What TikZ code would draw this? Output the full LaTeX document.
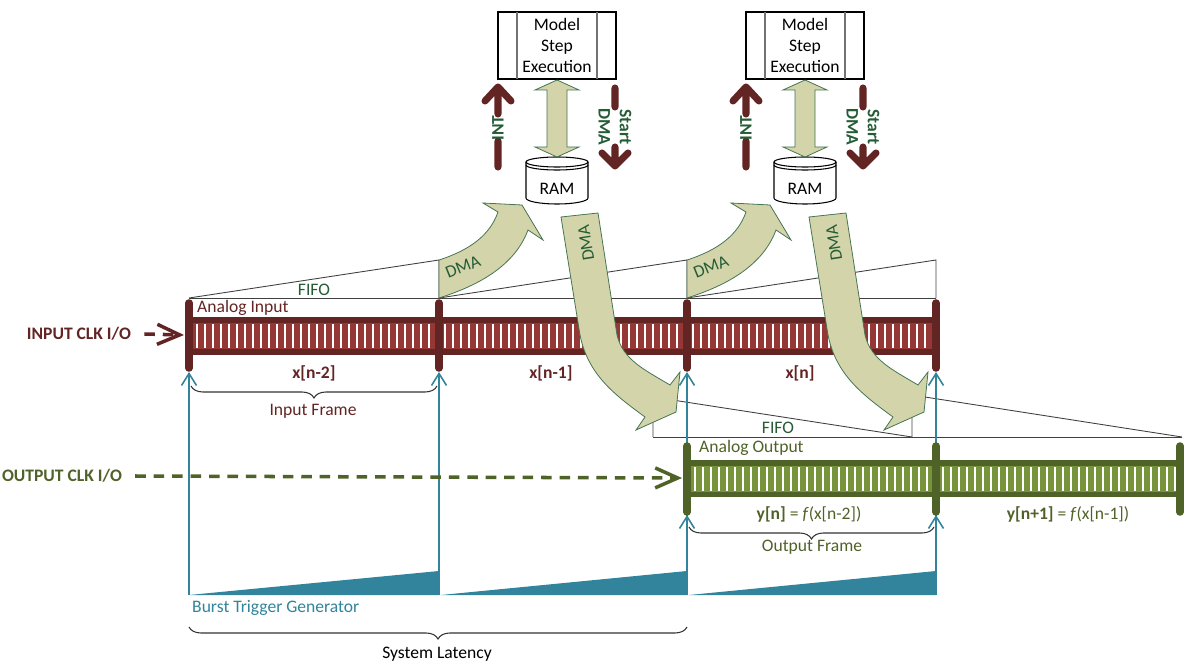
\documentclass[tikz,border=0pt]{standalone}
\usepackage{fontspec}
\setmainfont{Carlito}
\usetikzlibrary{arrows.meta,decorations.pathreplacing}
\definecolor{inred}{HTML}{632523}
\definecolor{inredl}{HTML}{953735}
\definecolor{outgrn}{HTML}{4F6228}
\definecolor{outgrnl}{HTML}{77933C}
\definecolor{trig}{HTML}{31849B}
\definecolor{khaki}{HTML}{D3D4A9}
\definecolor{dmagrn}{HTML}{245C36}

\begin{document}
\begin{tikzpicture}[x=0.02cm,y=-0.02cm,
  fifo/.style={black!75,line width=0.5pt},
  blockarrow/.style={fill=khaki,draw=dmagrn!85,line width=0.45pt},
  capline/.style={line width=4.3pt,line cap=round},
  sig/.style={inred,line width=4pt,line cap=round,line join=round},
  clk/.style={line width=2pt,dash pattern=on 6pt off 4.5pt,-{Straight Barb[length=0.45cm,width=0.4cm]}},
  trigarrow/.style={trig,line width=0.9pt,-{Straight Barb[length=0.24cm,width=0.3cm]}},
  framebrace/.style={decorate,decoration={brace,mirror,amplitude=0.24cm},black!80,line width=0.6pt},
  stripe/.style={white,line width=0.6pt}]
  \useasboundingbox (0,0) rectangle (1200,672);

  % fifo outlines
  \draw[fifo] (189,298) -- (936,298);
  \foreach \a/\b in {189/439,439/687,687/936} \draw[fifo] (\a,298) -- (\b,260) -- (\b,298);
  \draw[fifo] (653,437) -- (1182,437);
  \draw[fifo] (653,437) -- (653,397) -- (912,437);
  \draw[fifo] (912,437) -- (912,395) -- (1182,437);
  \node[dmagrn] (fifoin) at (314,290) {FIFO};
  \node[dmagrn] (fifoout) at (778,428) {FIFO};

  % burst trigger lines
  \foreach \a/\b in {189/439,441/687,689/936} \fill[trig] (\a,595) -- (\b,571) -- (\b,595) -- cycle;
  \foreach \x in {189,439,687,936} \draw[trigarrow] (\x,595) -- (\x,372);
  \foreach \x in {687,936} \draw[trigarrow] (\x,595) -- (\x,515);
  \node[trig,anchor=west] (btg) at (186,608) {Burst Trigger Generator};

  % input bar
  \fill[inred] (189,317) rectangle (936,355);
  \fill[inredl] (189,323) rectangle (936,349);
  \foreach \x in {197,205,...,933} \draw[stripe] (\x,324) -- (\x,348);
  \foreach \x in {189,439,687,936} \draw[capline,inred] (\x,303) -- (\x,368);
  \coordinate (inend) at (184,335);
  \node[inred,font=\bfseries] (inclk) at (79,334) {INPUT CLK I/O};
  \draw[clk,inred] ([xshift=4pt]inclk.east) -- (inend);
  \node[inred,anchor=west] (ain) at (191,308) {Analog Input};
  \node[inred,font=\bfseries] (xa) at (314,373) {x[n-2]};
  \node[inred,font=\bfseries] (xb) at (551,373) {x[n-1]};
  \node[inred,font=\bfseries] (xc) at (800,373) {x[n]};
  \draw[framebrace] (191,386) -- (437,386);
  \node[inred] (inframe) at (313,411) {Input Frame};

  % output bar
  \coordinate (outend) at (682,478);
  \node[outgrn,font=\bfseries] (outclk) at (62,476) {OUTPUT CLK I/O};
  \draw[clk,outgrn] ([xshift=4pt]outclk.east) -- (outend);
  \fill[outgrn] (687,460) rectangle (1180,497);
  \fill[outgrnl] (687,466) rectangle (1180,492);
  \foreach \x in {695,703,...,1177} \draw[stripe] (\x,467) -- (\x,491);
  \foreach \x in {687,936,1180} \draw[capline,outgrn] (\x,446) -- (\x,512);
  \node[outgrn,anchor=west] (aout) at (693,448) {Analog Output};
  \node[outgrn] (ya) at (809,514) {\textbf{y[n]} = \textit{f}(x[n-2])};
  \node[outgrn] (yb) at (1068,514) {\textbf{y[n+1]} = \textit{f}(x[n-1])};
  \draw[framebrace] (689,527) -- (934,527);
  \node[outgrn] (outframe) at (812,547) {Output Frame};

  \draw[framebrace] (189,627) -- (687,627);
  \node (latency) at (437,654) {System Latency};

  % model step, ram and dma, two frames
  \foreach \d/\k in {0/1,248/2} {
  \begin{scope}[shift={(\d,0)}]
    \node[draw,line width=0.6pt,minimum width=2.36cm,minimum height=1.34cm,align=center,inner sep=0pt] (mse\k) at (557,45.5) {Model\\Step\\Execution};
    \draw[black!55,line width=0.6pt] (517,12) -- (517,79) (597,12) -- (597,79);
    \draw[fill=white,line width=0.6pt] (526,162) -- (526,198) arc[start angle=180,end angle=0,x radius=31,y radius=6] -- (588,162);
    \draw[line width=0.6pt] (557,162) ellipse[x radius=31,y radius=5];
    \draw[line width=0.6pt] (526,165) arc[start angle=180,end angle=0,x radius=31,y radius=5];
    \node (ram\k) at (557,189) {RAM};
    \draw[blockarrow] (557,80) -- (579,90) -- (567,90) -- (567,147) -- (579,147) -- (557,157) -- (535,147) -- (547,147) -- (547,90) -- (535,90) -- cycle;
    \draw[sig] (498,167) -- (498,141) (498,114) -- (498,87) (485,101) -- (498,87) -- (511,101);
    \node[rotate=90,dmagrn,font=\bfseries] (int\k) at (498,128) {INT};
    \draw[sig] (615,88) -- (615,107) (615,147) -- (615,166) (602,153) -- (615,166) -- (628,153);
    \node[rotate=-90,dmagrn,font=\bfseries,align=center] (sdma\k) at (615,127) {Start\\DMA};
    \draw[blockarrow] (439,260) .. controls (470,250) and (490,235) .. (498,212) -- (483,203) -- (522,205) -- (543,240) -- (528,230) .. controls (515,265) and (480,285) .. (439,298) -- cycle;
    \node[rotate=22,dmagrn] (dmaup\k) at (463,267) {DMA};
    \draw[blockarrow] (561,217) -- (598,213) -- (617,335) .. controls (623,360) and (645,370) .. (670,385) -- (680,372) -- (676,412) -- (636,430) -- (645,417) .. controls (615,395) and (588,375) .. (580,335) -- cycle;
    \node[rotate=99,dmagrn] (dmadn\k) at (586,243) {DMA};
  \end{scope}}
\end{tikzpicture}
\end{document}
